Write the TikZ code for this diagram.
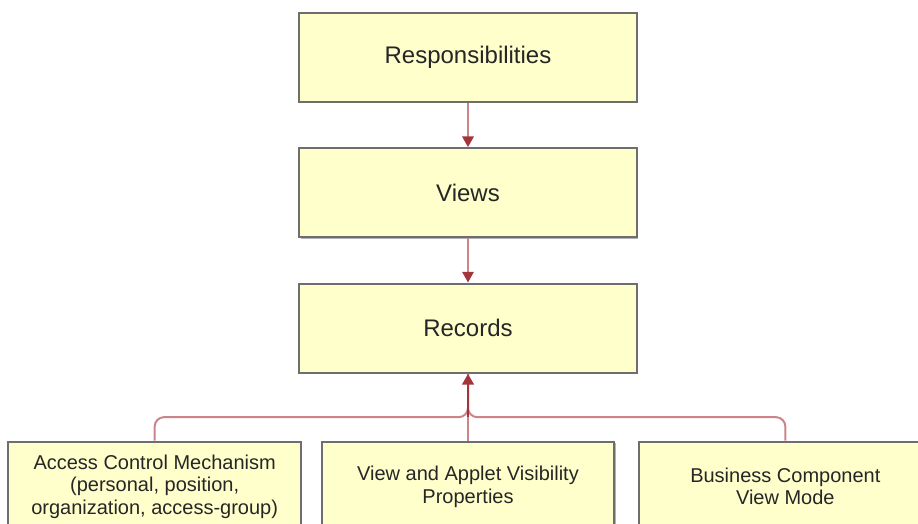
\documentclass[tikz,border=0pt]{standalone}
\usepackage{fontspec}
\setmainfont{Liberation Sans}
\usepackage{xcolor}
\usepackage{tikz}
\usetikzlibrary{arrows.meta}
\usetikzlibrary{shadows,positioning,calc}
\definecolor{boxfill}{HTML}{FFFFCC}
\definecolor{boxline}{HTML}{6E6E6E}
\definecolor{linkred}{HTML}{CB8488}
\definecolor{tipred}{HTML}{A3343B}

\begin{document}
\begin{tikzpicture}[x=0.75pt,y=-0.75pt,
			box/.style={draw=boxline,line width=1.5pt,fill=boxfill,
				drop shadow={shadow xshift=0.9pt,shadow yshift=-0.9pt,opacity=0.3,fill=black},
				minimum width=253pt,minimum height=67pt,text=black!85,
				font=\fontsize{18}{21}\selectfont},
			lowbox/.style={box,minimum width=219.5pt,minimum height=67.5pt,align=center,
				font=\fontsize{15}{17}\selectfont},
			link/.style={draw=linkred,line width=1.5pt,-{Triangle[length=8pt,width=8.5pt,color=tipred]}},
			branch/.style={draw=linkred,line width=1.5pt,rounded corners=7pt},
			feed/.style={draw=tipred,line width=2.2pt,-{Triangle[length=8pt,width=8.5pt]}}]
			\useasboundingbox (0,0) rectangle (918,524);
			\node[box] (resp) at (468,57.5) {Responsibilities};
			\node[box,below=33pt of resp] (views) {Views};
			\node[box,below=33pt of views] (rec) {Records};
			\node[lowbox,below=50pt of rec] (vis) {View and Applet Visibility\\Properties};
			\node[lowbox,left=14pt of vis] (acm) {Access Control Mechanism\\(personal, position,\\organization, access-group)};
			\node[lowbox,right=17pt of vis] (bcvm) {Business Component\\View Mode};
			\coordinate (bus) at ($(rec.south)!0.65!(vis.north)$);
			\draw[link] (resp.south) -- (views.north);
			\draw[link] (views.south) -- (rec.north);
			\draw[branch] (acm.north) |- (bus) -- (rec.south);
			\draw[branch] (bcvm.north) |- (bus) -- (rec.south);
			\draw[branch] (vis.north) -- (rec.south);
			\draw[feed] (bus) -- (rec.south);
			\end{tikzpicture}
\end{document}
